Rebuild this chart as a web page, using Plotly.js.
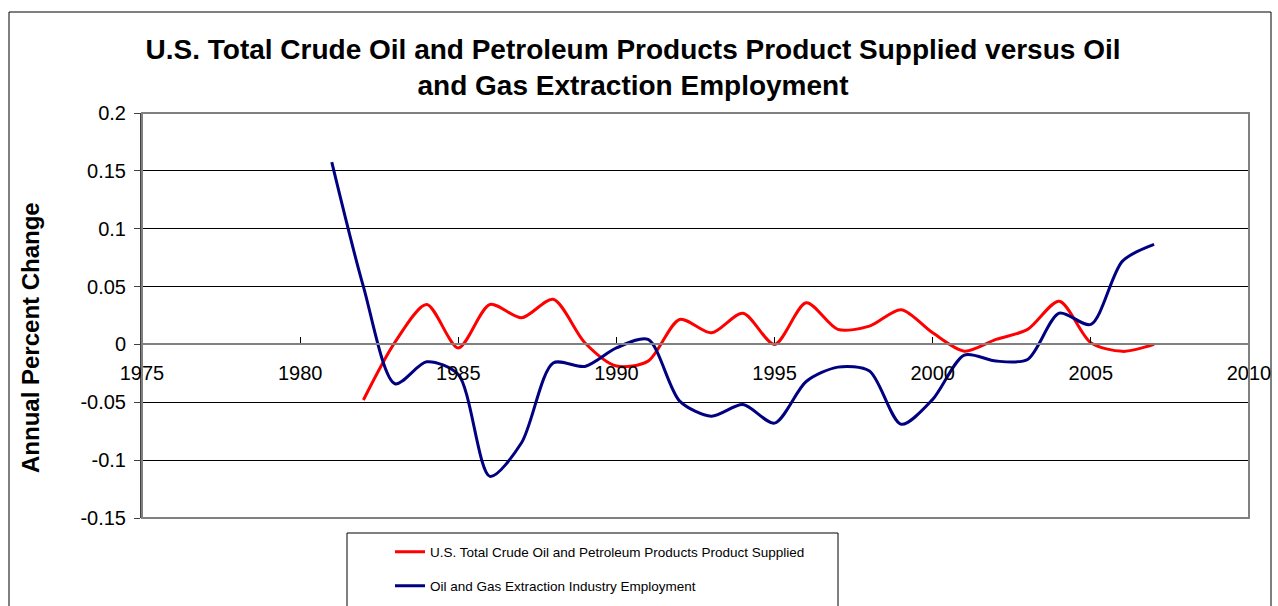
<!DOCTYPE html>
<html>
<head>
<meta charset="utf-8">
<script src="https://cdn.plot.ly/plotly-3.0.1.min.js"></script>
<style>html,body{margin:0;padding:0;background:#fff;}#chart{width:1278px;height:606px;}</style>
</head>
<body>
<div id="chart"></div>
<script>
// ---- data ----
const supplyYears = [1982,1983,1984,1985,1986,1987,1988,1989,1990,1991,1992,1993,1994,1995,1996,1997,1998,1999,2000,2001,2002,2003,2004,2005,2006,2007];
const supplyValues = [-0.048,0.002,0.0345,-0.003,0.0345,0.023,0.039,0.0015,-0.0187,-0.0144,0.0216,0.010,0.027,0.0,0.036,0.013,0.0158,0.030,0.010,-0.0058,0.0043,0.013,0.0374,0.0015,-0.006,0.0];
const employYears = [1981,1982,1983,1984,1985,1986,1987,1988,1989,1990,1991,1992,1993,1994,1995,1996,1997,1998,1999,2000,2001,2002,2003,2004,2005,2006,2007];
const employValues = [0.1575,0.050,-0.034,-0.015,-0.026,-0.114,-0.085,-0.016,-0.019,-0.003,0.0043,-0.049,-0.062,-0.052,-0.068,-0.032,-0.0196,-0.023,-0.069,-0.0475,-0.0092,-0.0144,-0.013,0.027,0.0173,0.072,0.0864];
const yTickVals = [0.2,0.15,0.1,0.05,0,-0.05,-0.1,-0.15];
const yTickText = ["0.2","0.15","0.1","0.05","0","-0.05","-0.1","-0.15"];
const xTickVals = [1975,1980,1985,1990,1995,2000,2005,2010];
const seriesNames = ["U.S. Total Crude Oil and Petroleum Products Product Supplied","Oil and Gas Extraction Industry Employment"];

// ---- layout geometry (pixels) ----
const W = 1278, H = 606;
const mL = 142, mR = 29, mT = 113, mB = 88;
const pw = W - mL - mR, ph = H - mT - mB;
const px = x => (x - mL) / pw;          // pixel x -> paper x
const py = y => (H - mB - y) / ph;      // pixel y -> paper y
const yMin = -0.15, yMax = 0.2;
const zeroPos = (0 - yMin) / (yMax - yMin);

const font = "Arial, 'Liberation Sans', sans-serif";

const traces = [
  {x: supplyYears, y: supplyValues, name: seriesNames[0], type: 'scatter', mode: 'lines',
   line: {color: '#FF0000', width: 3, shape: 'spline', smoothing: 0.8}, legend: 'legend'},
  {x: employYears, y: employValues, name: seriesNames[1], type: 'scatter', mode: 'lines',
   line: {color: '#000080', width: 3, shape: 'spline', smoothing: 0.8}, legend: 'legend2'}
];

const legendCommon = {
  xanchor: 'left', yanchor: 'middle', bgcolor: 'rgba(0,0,0,0)', borderwidth: 0,
  font: {family: font, size: 13.5, color: '#000'}, itemwidth: 30
};

const layout = {
  width: W, height: H,
  margin: {l: mL, r: mR, t: mT, b: mB, autoexpand: false},
  paper_bgcolor: '#fff', plot_bgcolor: '#fff',
  title: {
    text: "U.S. Total Crude Oil and Petroleum Products Product Supplied versus Oil<br>and Gas Extraction Employment",
    font: {family: font, size: 28, color: '#000', weight: 'bold'},
    x: px(633), xanchor: 'center', xref: 'paper', y: 1 - 59 / H, yanchor: 'top'
  },
  xaxis: {
    range: [1975, 2010], tickvals: xTickVals, ticktext: xTickVals.map(String),
    anchor: 'free', position: zeroPos,
    showline: true, linecolor: '#808080', linewidth: 2,
    ticks: 'inside', ticklen: 6, tickcolor: '#000', tickwidth: 1,
    showgrid: false, zeroline: false, ticklabelstandoff: 11,
    tickfont: {family: font, size: 20, color: '#000'}
  },
  yaxis: {
    range: [yMin, yMax], tickvals: yTickVals, ticktext: yTickText,
    showline: true, linecolor: '#404040', linewidth: 2,
    ticks: 'outside', ticklen: 6, tickcolor: '#404040', tickwidth: 1,
    showgrid: true, gridcolor: '#000', gridwidth: 1, zeroline: false,
    tickfont: {family: font, size: 20, color: '#000'}, ticklabelstandoff: 4
  },
  showlegend: true,
  legend: Object.assign({x: px(390), y: py(552)}, legendCommon),
  legend2: Object.assign({x: px(390), y: py(586)}, legendCommon),
  annotations: [{
    text: "Annual Percent Change", textangle: -90, showarrow: false,
    xref: 'paper', yref: 'paper', x: px(30), y: py(338), xanchor: 'center', yanchor: 'middle',
    font: {family: font, size: 24, color: '#000', weight: 'bold'}
  }],
  shapes: [
    // plot area border
    {type: 'rect', xref: 'paper', yref: 'paper', x0: 0, x1: 1, y0: 0, y1: 1,
     line: {color: '#808080', width: 2}, layer: 'above'},
    // chart area border
    {type: 'rect', xref: 'paper', yref: 'paper', x0: px(9), x1: px(1271), y0: py(620), y1: py(12),
     line: {color: '#000', width: 1}},
    // legend box
    {type: 'rect', xref: 'paper', yref: 'paper', x0: px(347), x1: px(838), y0: py(620), y1: py(533),
     line: {color: '#000', width: 1}, fillcolor: '#fff', layer: 'below'}
  ]
};

Plotly.newPlot('chart', traces, layout, {displayModeBar: false, staticPlot: true});
</script>
</body>
</html>
